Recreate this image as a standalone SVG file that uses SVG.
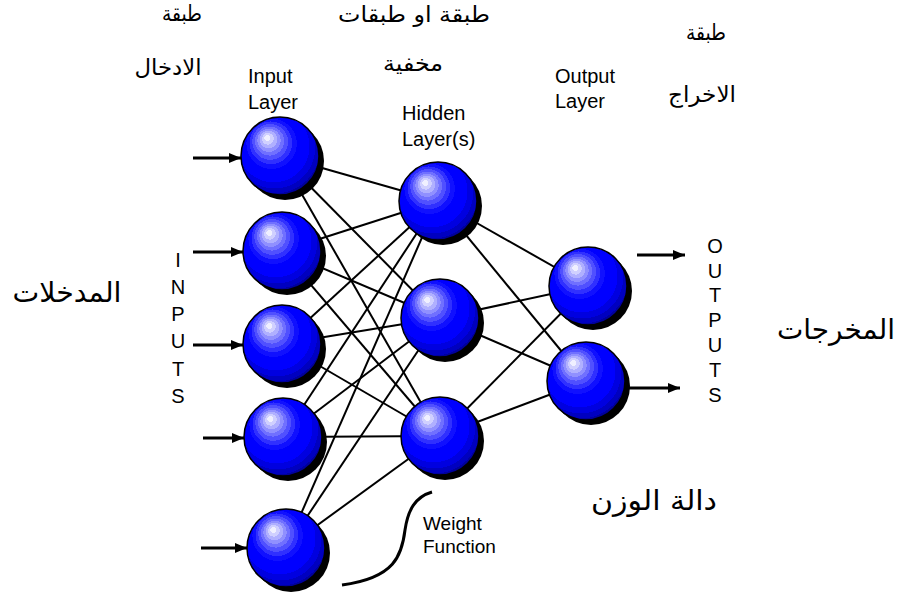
<svg xmlns="http://www.w3.org/2000/svg" width="903" height="593" viewBox="0 0 903 593">
<style>
.en{font-family:"Liberation Sans",Arial,sans-serif;font-size:20px;fill:#000}
.ar{font-family:"DejaVu Sans","Liberation Sans",sans-serif;fill:#000}
.edge{stroke:#000;stroke-width:2;fill:none}
.arrow{stroke:#000;stroke-width:3;fill:none;marker-end:url(#ah)}
.shadow{fill:#000}
.ball{fill:url(#sph);stroke:#000;stroke-width:1.5}
</style>
<defs>
<radialGradient id="sph" cx="0.45" cy="0.42" r="0.62" fx="0.33" fy="0.26">
<stop offset="0" stop-color="#f0f0ff"/>
<stop offset="0.06" stop-color="#f0f0ff"/><stop offset="0.06" stop-color="#d0d0ff"/>
<stop offset="0.12" stop-color="#d0d0ff"/><stop offset="0.12" stop-color="#b0b0ff"/>
<stop offset="0.18" stop-color="#b0b0ff"/><stop offset="0.18" stop-color="#9090ff"/>
<stop offset="0.24" stop-color="#9090ff"/><stop offset="0.24" stop-color="#7070ff"/>
<stop offset="0.30" stop-color="#7070ff"/><stop offset="0.30" stop-color="#5050ff"/>
<stop offset="0.37" stop-color="#5050ff"/><stop offset="0.37" stop-color="#3030ff"/>
<stop offset="0.44" stop-color="#3030ff"/><stop offset="0.44" stop-color="#1010ff"/>
<stop offset="0.52" stop-color="#1010ff"/><stop offset="0.52" stop-color="#0000ff"/>
<stop offset="0.74" stop-color="#0000ff"/><stop offset="0.74" stop-color="#0000e0"/>
<stop offset="0.84" stop-color="#0000e0"/><stop offset="0.84" stop-color="#0000c0"/>
<stop offset="0.92" stop-color="#0000c0"/><stop offset="0.92" stop-color="#0000a0"/>
<stop offset="1" stop-color="#000088"/>
</radialGradient>
<marker id="ah" markerUnits="userSpaceOnUse" markerWidth="14" markerHeight="12" refX="12" refY="6" orient="auto">
<path d="M0,1 L12,6 L0,11 Z" fill="#000"/>
</marker>
</defs>
<rect width="903" height="593" fill="#fff"/>

<g id="connectors">
<line class="edge" x1="280" y1="156" x2="438" y2="201"/>
<line class="edge" x1="280" y1="156" x2="440" y2="318"/>
<line class="edge" x1="280" y1="156" x2="440" y2="436"/>
<line class="edge" x1="282" y1="251" x2="438" y2="201"/>
<line class="edge" x1="282" y1="251" x2="440" y2="318"/>
<line class="edge" x1="282" y1="251" x2="440" y2="436"/>
<line class="edge" x1="282" y1="344" x2="438" y2="201"/>
<line class="edge" x1="282" y1="344" x2="440" y2="318"/>
<line class="edge" x1="282" y1="344" x2="440" y2="436"/>
<line class="edge" x1="283" y1="437" x2="438" y2="201"/>
<line class="edge" x1="283" y1="437" x2="440" y2="318"/>
<line class="edge" x1="283" y1="437" x2="440" y2="436"/>
<line class="edge" x1="286" y1="548" x2="438" y2="201"/>
<line class="edge" x1="286" y1="548" x2="440" y2="318"/>
<line class="edge" x1="286" y1="548" x2="440" y2="436"/>
<line class="edge" x1="438" y1="201" x2="588" y2="286"/>
<line class="edge" x1="438" y1="201" x2="586" y2="381"/>
<line class="edge" x1="440" y1="318" x2="588" y2="286"/>
<line class="edge" x1="440" y1="318" x2="586" y2="381"/>
<line class="edge" x1="440" y1="436" x2="588" y2="286"/>
<line class="edge" x1="440" y1="436" x2="586" y2="381"/>
<line class="arrow" x1="193" y1="158" x2="241" y2="158"/>
<line class="arrow" x1="193" y1="252" x2="243" y2="252"/>
<line class="arrow" x1="193" y1="345" x2="243" y2="345"/>
<line class="arrow" x1="203" y1="438" x2="244" y2="438"/>
<line class="arrow" x1="201" y1="548" x2="247" y2="548"/>
<line class="arrow" x1="637" y1="255" x2="685" y2="255"/>
<line class="arrow" x1="627" y1="388" x2="680" y2="388"/>
<path class="edge" style="stroke-width:3" d="M432,492 C415,497 408,510 405,530 C402,555 395,578 342,585"/>
</g>

<g id="in1"><circle class="shadow" cx="285" cy="161" r="39"/><circle class="ball" cx="280" cy="156" r="39"/></g>
<g id="in2"><circle class="shadow" cx="287" cy="256" r="39"/><circle class="ball" cx="282" cy="251" r="39"/></g>
<g id="in3"><circle class="shadow" cx="287" cy="349" r="39"/><circle class="ball" cx="282" cy="344" r="39"/></g>
<g id="in4"><circle class="shadow" cx="288" cy="442" r="39"/><circle class="ball" cx="283" cy="437" r="39"/></g>
<g id="in5"><circle class="shadow" cx="291" cy="553" r="39"/><circle class="ball" cx="286" cy="548" r="39"/></g>
<g id="hid1"><circle class="shadow" cx="443" cy="206" r="39"/><circle class="ball" cx="438" cy="201" r="39"/></g>
<g id="hid2"><circle class="shadow" cx="445" cy="323" r="39"/><circle class="ball" cx="440" cy="318" r="39"/></g>
<g id="hid3"><circle class="shadow" cx="445" cy="441" r="39"/><circle class="ball" cx="440" cy="436" r="39"/></g>
<g id="out1"><circle class="shadow" cx="593" cy="291" r="39"/><circle class="ball" cx="588" cy="286" r="39"/></g>
<g id="out2"><circle class="shadow" cx="591" cy="386" r="39"/><circle class="ball" cx="586" cy="381" r="39"/></g>

<g id="labels">
<text class="en" x="248" y="83">Input</text>
<text class="en" x="248" y="109">Layer</text>
<text class="en" x="402" y="120">Hidden</text>
<text class="en" x="402" y="146">Layer(s)</text>
<text class="en" x="555" y="83">Output</text>
<text class="en" x="555" y="108">Layer</text>
<text class="en" x="423" y="530" style="font-size:19px">Weight</text>
<text class="en" x="423" y="553" style="font-size:19px">Function</text>
<g class="en" text-anchor="middle">
<text x="178" y="267">I</text><text x="178" y="294">N</text><text x="178" y="321">P</text>
<text x="178" y="348">U</text><text x="178" y="376">T</text><text x="178" y="403">S</text>
<text x="715" y="253">O</text><text x="715" y="278">U</text><text x="715" y="302">T</text>
<text x="715" y="327">P</text><text x="715" y="352">U</text><text x="715" y="377">T</text>
<text x="715" y="402">S</text>
</g>
<g class="ar" text-anchor="middle">
<text x="182" y="21" style="font-size:22px" textLength="40" lengthAdjust="spacingAndGlyphs">طبقة</text>
<text x="168" y="75" style="font-size:22px" textLength="67" lengthAdjust="spacingAndGlyphs">الادخال</text>
<text x="414" y="22" style="font-size:22px" textLength="152" lengthAdjust="spacingAndGlyphs">طبقة او طبقات</text>
<text x="413" y="71" style="font-size:22px" textLength="60" lengthAdjust="spacingAndGlyphs">مخفية</text>
<text x="706" y="40" style="font-size:22px" textLength="40" lengthAdjust="spacingAndGlyphs">طبقة</text>
<text x="702" y="102" style="font-size:22px" textLength="68" lengthAdjust="spacingAndGlyphs">الاخراج</text>
<text x="67" y="302" style="font-size:28px" textLength="109" lengthAdjust="spacingAndGlyphs">المدخلات</text>
<text x="836" y="339" style="font-size:28px" textLength="118" lengthAdjust="spacingAndGlyphs">المخرجات</text>
<text x="654" y="510" style="font-size:28px" textLength="126" lengthAdjust="spacingAndGlyphs">دالة الوزن</text>
</g>
</g>
</svg>
